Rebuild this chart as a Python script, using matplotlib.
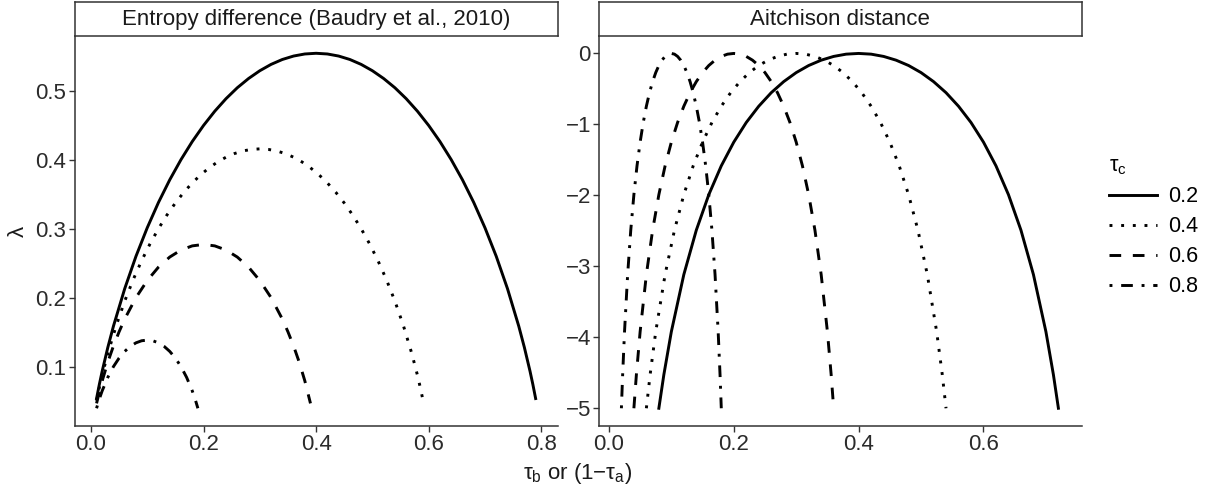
import matplotlib.pyplot as plt

plt.rcParams['font.family'] = ['Liberation Sans', 'DejaVu Sans']
plt.rcParams['mathtext.fontset'] = 'custom'
plt.rcParams['mathtext.rm'] = 'Liberation Sans'
plt.rcParams['mathtext.it'] = 'Liberation Sans'
plt.rcParams['mathtext.bf'] = 'Liberation Sans:bold'

tau_c = ['0.2', '0.4', '0.6', '0.8']

# entropy difference (left panel)
ent_x_02 = [0.01, 0.015, 0.02, 0.03, 0.04, 0.06, 0.08, 0.1, 0.12, 0.14, 0.16, 0.18, 0.2, 0.22, 0.24, 0.26,
            0.28, 0.3, 0.32, 0.34, 0.36, 0.38, 0.4,
            0.42, 0.44, 0.46, 0.48, 0.5, 0.52, 0.54, 0.56, 0.58, 0.6, 0.62, 0.64, 0.66, 0.68, 0.7, 0.72,
            0.74, 0.76, 0.77, 0.78, 0.785, 0.79]
ent_y_02 = [0.0538, 0.0745, 0.0935, 0.1279, 0.1588, 0.2131, 0.2601, 0.3014, 0.3382, 0.3710, 0.4003, 0.4265,
            0.4498, 0.4705, 0.4887, 0.5045, 0.5179, 0.5292, 0.5384, 0.5455, 0.5505, 0.5535, 0.5545,
            0.5535, 0.5505, 0.5455, 0.5384, 0.5292, 0.5179, 0.5045, 0.4887, 0.4705, 0.4498, 0.4265, 0.4003,
            0.3710, 0.3382, 0.3014, 0.2601, 0.2131, 0.1588, 0.1279, 0.0935, 0.0745, 0.0538]
ent_x_04 = [0.01, 0.015, 0.02, 0.03, 0.045, 0.06, 0.075, 0.09, 0.105, 0.12, 0.135, 0.15, 0.165, 0.18, 0.195,
            0.21, 0.225, 0.24, 0.255, 0.27, 0.285, 0.3,
            0.315, 0.33, 0.345, 0.36, 0.375, 0.39, 0.405, 0.42, 0.435, 0.45, 0.465, 0.48, 0.495, 0.51, 0.525,
            0.54, 0.555, 0.57, 0.58, 0.585, 0.59]
ent_y_04 = [0.0508, 0.0701, 0.0877, 0.1191, 0.1598, 0.1951, 0.2261, 0.2536, 0.2782, 0.3002, 0.3199, 0.3374,
            0.3529, 0.3665, 0.3783, 0.3884, 0.3969, 0.4038, 0.4091, 0.4129, 0.4151, 0.4159,
            0.4151, 0.4129, 0.4091, 0.4038, 0.3969, 0.3884, 0.3783, 0.3665, 0.3529, 0.3374, 0.3199, 0.3002,
            0.2782, 0.2536, 0.2261, 0.1951, 0.1598, 0.1191, 0.0877, 0.0701, 0.0508]
ent_x_06 = [0.01, 0.02, 0.03, 0.04, 0.05, 0.06, 0.08, 0.1, 0.12, 0.14, 0.16, 0.18, 0.2,
            0.22, 0.24, 0.26, 0.28, 0.3, 0.32, 0.34, 0.35, 0.36, 0.37, 0.38, 0.39]
ent_y_06 = [0.0468, 0.0794, 0.1066, 0.1300, 0.1506, 0.1691, 0.2002, 0.2249, 0.2444, 0.2590, 0.2692, 0.2752,
            0.2773, 0.2752, 0.2692, 0.2590, 0.2444, 0.2249, 0.2002, 0.1691, 0.1506, 0.1300, 0.1066, 0.0794,
            0.0468]
ent_x_08 = [0.01, 0.015, 0.02, 0.03, 0.04, 0.05, 0.06, 0.07, 0.08, 0.09, 0.1,
            0.11, 0.12, 0.13, 0.14, 0.15, 0.16, 0.17, 0.18, 0.185, 0.19]
ent_y_08 = [0.0397, 0.0533, 0.0650, 0.0845, 0.1001, 0.1125, 0.1222, 0.1295, 0.1346, 0.1376, 0.1386,
            0.1376, 0.1346, 0.1295, 0.1222, 0.1125, 0.1001, 0.0845, 0.0650, 0.0533, 0.0397]

# aitchison distance (right panel), same y values at matching points of every curve
ait_y = [-5.000, -4.527, -3.921, -3.116, -2.490, -1.990, -1.584, -1.250, -0.973, -0.744, -0.553, -0.397,
         -0.270, -0.170, -0.095, -0.042, -0.010, 0.0,
         -0.010, -0.042, -0.095, -0.170, -0.270, -0.397, -0.553, -0.744, -0.973, -1.250, -1.584, -1.990,
         -2.490, -3.116, -3.921, -4.527, -5.000]
ait_x_02 = [0.08, 0.088, 0.1, 0.12, 0.14, 0.16, 0.18, 0.2, 0.22, 0.24, 0.26, 0.28, 0.3, 0.32, 0.34, 0.36,
            0.38, 0.4,
            0.42, 0.44, 0.46, 0.48, 0.5, 0.52, 0.54, 0.56, 0.58, 0.6, 0.62, 0.64, 0.66, 0.68, 0.7, 0.712, 0.72]
ait_x_04 = [0.06, 0.066, 0.075, 0.09, 0.105, 0.12, 0.135, 0.15, 0.165, 0.18, 0.195, 0.21, 0.225, 0.24,
            0.255, 0.27, 0.285, 0.3,
            0.315, 0.33, 0.345, 0.36, 0.375, 0.39, 0.405, 0.42, 0.435, 0.45, 0.465, 0.48, 0.495, 0.51, 0.525,
            0.534, 0.54]
ait_x_06 = [0.04, 0.044, 0.05, 0.06, 0.07, 0.08, 0.09, 0.1, 0.11, 0.12, 0.13, 0.14, 0.15, 0.16, 0.17, 0.18,
            0.19, 0.2,
            0.21, 0.22, 0.23, 0.24, 0.25, 0.26, 0.27, 0.28, 0.29, 0.3, 0.31, 0.32, 0.33, 0.34, 0.35, 0.356, 0.36]
ait_x_08 = [0.02, 0.022, 0.025, 0.03, 0.035, 0.04, 0.045, 0.05, 0.055, 0.06, 0.065, 0.07, 0.075, 0.08,
            0.085, 0.09, 0.095, 0.1,
            0.105, 0.11, 0.115, 0.12, 0.125, 0.13, 0.135, 0.14, 0.145, 0.15, 0.155, 0.16, 0.165, 0.17, 0.175,
            0.178, 0.18]

styles = ['-', (0, (1, 3)), (0, (4, 4)), (0, (1, 3, 4, 3))]
lw = 2.1
axcol = '#333333'
W, H = 1224, 488

fig = plt.figure(figsize=(W / 100, H / 100), dpi=100)


def panel(left_px, right_px, title):
    top_px, bot_px = 35.7, 426
    ax = fig.add_axes([left_px / W, 1 - bot_px / H, (right_px - left_px) / W, (bot_px - top_px) / H])
    for s in ['top', 'right']:
        ax.spines[s].set_visible(False)
    for s in ['left', 'bottom']:
        ax.spines[s].set_color(axcol)
        ax.spines[s].set_linewidth(1.1)
    ax.tick_params(length=4, width=1.0, color=axcol, labelsize=16, labelcolor='#2b2b2b', pad=2)
    st = fig.add_axes([left_px / W, 1 - top_px / H, (right_px - left_px) / W, (top_px - 1.8) / H])
    st.set_xticks([])
    st.set_yticks([])
    for s in st.spines.values():
        s.set_color(axcol)
        s.set_linewidth(1.1)
    st.text(0.5, 0.47, title, ha='center', va='center', fontsize=16, color='#1a1a1a', transform=st.transAxes)
    return ax


ax1 = panel(74.6, 557.6, 'Entropy difference (Baudry et al., 2010)')
ax2 = panel(599.3, 1081.5, 'Aitchison distance')

ent = [(ent_x_02, ent_y_02), (ent_x_04, ent_y_04), (ent_x_06, ent_y_06), (ent_x_08, ent_y_08)]
ait = [ait_x_02, ait_x_04, ait_x_06, ait_x_08]
handles = []
for i in range(4):
    ax1.plot(ent[i][0], ent[i][1], color='black', lw=lw, linestyle=styles[i])
    h, = ax2.plot(ait[i], ait_y, color='black', lw=lw, linestyle=styles[i])
    handles.append(h)

ax1.set_xlim(-0.029, 0.829)
ax1.set_ylim(0.014, 0.580)
ax1.set_xticks([0.0, 0.2, 0.4, 0.6, 0.8])
ax1.set_yticks([0.1, 0.2, 0.3, 0.4, 0.5])
ax2.set_xlim(-0.0154, 0.757)
ax2.set_ylim(-5.25, 0.25)
ax2.set_xticks([0.0, 0.2, 0.4, 0.6])
ax2.set_yticks([-5, -4, -3, -2, -1, 0])

fig.text(578 / W, 1 - 473 / H, r'$\tau_b$ or (1−$\tau_a$)', ha='center', va='center', fontsize=16, color='#1a1a1a')
fig.text(18 / W, 1 - 231 / H, 'λ', ha='center', va='center', rotation=90, fontsize=16, color='#1a1a1a')

leg = fig.legend(handles, tau_c, title=r'$\tau_c$', loc='upper left', bbox_to_anchor=(1100 / W, 1 - 147 / H),
                 frameon=False, fontsize=15.5, title_fontsize=15.5, handlelength=2.25, handletextpad=0.5,
                 labelspacing=0.42, alignment='left', borderaxespad=0)

fig.savefig('out.png', dpi=100)
